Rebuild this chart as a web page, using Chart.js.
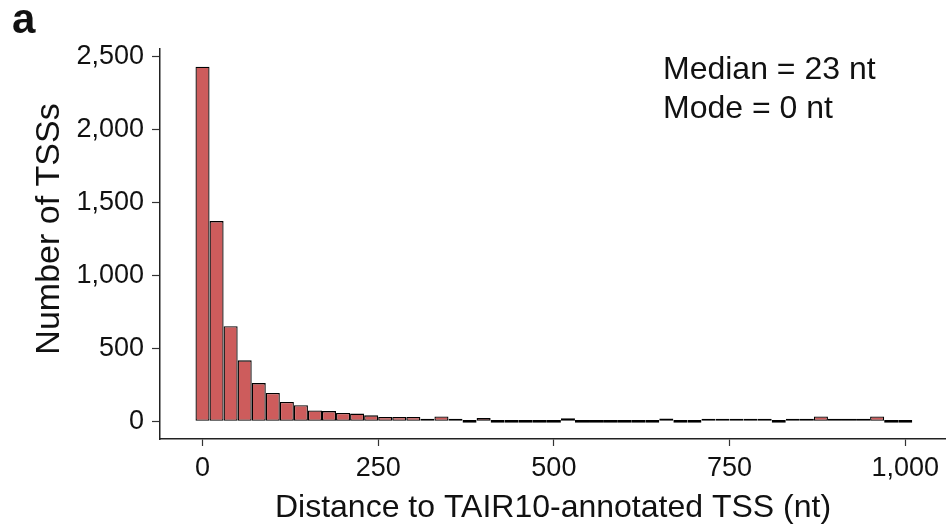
<!DOCTYPE html>
<html>
<head>
<meta charset="utf-8">
<script src="https://cdn.jsdelivr.net/npm/chart.js@4/dist/chart.umd.min.js"></script>
<style>
  html, body { margin: 0; padding: 0; background: #ffffff; }
  #wrap { width: 946px; height: 529px; }
</style>
</head>
<body>
<div id="wrap"><canvas id="hist" width="946" height="529"></canvas></div>
<script>
// Histogram bins (bin centre, nt) and TSS counts per 20-nt bin
const binCenters = [
  0, 20, 40, 60, 80, 100, 120, 140, 160, 180,
  200, 220, 240, 260, 280, 300, 320, 340, 360, 380,
  400, 420, 440, 460, 480, 500, 520, 540, 560, 580,
  600, 620, 640, 660, 680, 700, 720, 740, 760, 780,
  800, 820, 840, 860, 880, 900, 920, 940, 960, 980,
  1000
];
const tssCounts = [
  2430, 1372, 651, 418, 262, 194, 132, 110, 75, 70,
  57, 53, 41, 30, 30, 30, 18, 34, 18, 0,
  23, 0, 0, 0, 0, 0, 21, 0, 0, 0,
  0, 0, 0, 20, 0, 0, 17, 17, 17, 17,
  17, 0, 17, 17, 34, 17, 17, 17, 34, 0,
  0
];
const xTickValues = [0, 250, 500, 750, 1000];
const yTickValues = [0, 500, 1000, 1500, 2000, 2500];
const xTitle = 'Distance to TAIR10-annotated TSS (nt)';
const yTitle = 'Number of TSSs';
const statLines = ['Median = 23 nt', 'Mode = 0 nt'];
const panelTag = 'a';

const FONT = '"Liberation Sans", Arial, Helvetica, sans-serif';
const INK = '#111111';
const fmt = v => Number(v).toLocaleString('en-US');

// Extra text: panel letter, rotated y title, summary statistics
const textLayer = {
  id: 'textLayer',
  afterDraw(chart) {
    const ctx = chart.ctx;
    ctx.save();
    ctx.fillStyle = INK;
    ctx.textBaseline = 'alphabetic';

    ctx.font = 'bold 42px ' + FONT;
    ctx.textAlign = 'left';
    ctx.fillText(panelTag, 12, 33);

    ctx.font = '32px ' + FONT;
    ctx.fillText(statLines[0], 663, 79);
    ctx.fillText(statLines[1], 663, 118);

    ctx.save();
    ctx.translate(59, 229);
    ctx.rotate(-Math.PI / 2);
    ctx.textAlign = 'center';
    ctx.font = '34px ' + FONT;
    ctx.fillText(yTitle, 0, 0);
    ctx.restore();

    ctx.restore();
  }
};

new Chart(document.getElementById('hist'), {
  type: 'bar',
  data: {
    datasets: [{
      data: binCenters.map((c, i) => ({ x: c, y: tssCounts[i] })),
      backgroundColor: '#CD5C5C',
      borderColor: '#000000',
      borderWidth: 1.3,
      borderSkipped: false,
      inflateAmount: 0,
      minBarLength: 2.6,
      barPercentage: 1,
      categoryPercentage: 1
    }]
  },
  options: {
    responsive: false,
    devicePixelRatio: 1,
    animation: false,
    layout: { padding: { top: 49, right: 0, bottom: 0, left: 0 } },
    plugins: {
      legend: { display: false },
      tooltip: { enabled: false }
    },
    scales: {
      x: {
        type: 'linear',
        offset: false,
        min: -60.5,
        max: 1058,
        afterFit(scale) { scale.height = 90; },
        afterBuildTicks(scale) { scale.ticks = xTickValues.map(v => ({ value: v })); },
        border: { display: true, color: '#222222', width: 1.5 },
        grid: { offset: false, drawOnChartArea: false, drawTicks: true, tickLength: 7, tickColor: '#333333', tickWidth: 1.2 },
        ticks: {
          padding: 6,
          maxRotation: 0,
          autoSkip: false,
          color: INK,
          font: { family: FONT, size: 27 },
          callback: v => fmt(v)
        },
        title: {
          display: true,
          text: xTitle,
          color: INK,
          font: { family: FONT, size: 32 },
          padding: { top: 2, bottom: 2 }
        }
      },
      y: {
        min: -121,
        max: 2551,
        afterFit(scale) { scale.width = 160; },
        afterBuildTicks(scale) { scale.ticks = yTickValues.map(v => ({ value: v })); },
        border: { display: true, color: '#222222', width: 1.5 },
        grid: { drawOnChartArea: false, drawTicks: true, tickLength: 8, tickColor: '#333333', tickWidth: 1.2 },
        ticks: {
          padding: 8,
          autoSkip: false,
          color: INK,
          font: { family: FONT, size: 27 },
          callback: v => fmt(v)
        }
      }
    }
  },
  plugins: [textLayer]
});
</script>
</body>
</html>
